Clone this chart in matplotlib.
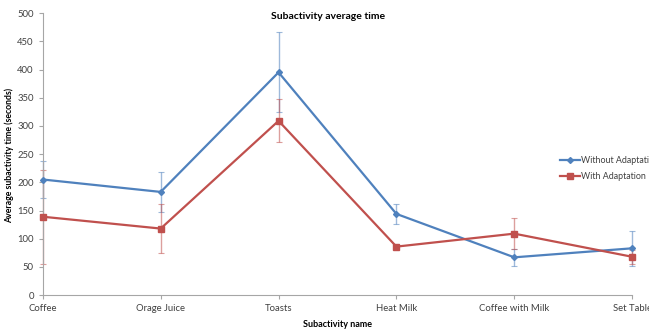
import matplotlib
matplotlib.use("Agg")
import matplotlib.pyplot as plt
import numpy as np

categories = ["Coffee", "Orage Juice", "Toasts", "Heat Milk", "Coffee with Milk", "Set Table"]
without_adapt = [205, 183, 395, 144, 67, 83]
without_err = [32, 35, 71, 18, 15, 31]
with_adapt = [139, 118, 309, 86, 109, 68]
with_err = [83, 43, 38, 3, 28, 12]
yticks = [0, 50, 100, 150, 200, 250, 300, 350, 400, 450, 500]

plt.rcParams['font.family'] = ['Lato', 'DejaVu Sans']

fig = plt.figure(figsize=(6.49, 3.29), dpi=100)
ax = fig.add_axes([0.066, 0.103, 0.908, 0.857])

blue = "#4F81BD"
red = "#C0504D"
x = np.arange(len(categories))

ax.errorbar(x, without_adapt, yerr=without_err, fmt='none', ecolor=blue, alpha=0.55,
            elinewidth=1, capsize=2, capthick=0.8, zorder=2, clip_on=False)
ax.errorbar(x, with_adapt, yerr=with_err, fmt='none', ecolor=red, alpha=0.55,
            elinewidth=1, capsize=2, capthick=0.8, zorder=2, clip_on=False)
ax.plot(x, without_adapt, color=blue, lw=1.6, marker='D', ms=3, label="Without Adaptation",
        zorder=3, clip_on=False)
ax.plot(x, with_adapt, color=red, lw=1.6, marker='s', ms=4.5, label="With Adaptation",
        zorder=3, clip_on=False)

ax.set_xlim(0, 5)
ax.set_ylim(0, 500)
ax.set_yticks(yticks)
ax.set_xticks(x)
ax.set_xticklabels(categories)
for s in ['top', 'right']:
    ax.spines[s].set_visible(False)
for s in ['left', 'bottom']:
    ax.spines[s].set_color('#A6A6A6')
    ax.spines[s].set_linewidth(0.8)
ax.tick_params(axis='both', colors='#A6A6A6', labelcolor='#404040', labelsize=6.8, length=3, width=0.8)

fig.text(0.505, 0.951, "Subactivity average time", fontsize=7.5, fontweight='bold',
         ha='center', va='center', color='black')
ax.set_xlabel("Subactivity name", fontsize=6.5, fontweight='bold', labelpad=5)
ax.set_ylabel("Average subactivity time (seconds)", fontsize=6.3, fontweight='bold')
ax.yaxis.set_label_coords(-0.049, 0.496)

leg = ax.legend(loc='upper left', bbox_to_anchor=(0.872, 0.505), frameon=False, fontsize=6.4,
                handlelength=2.2, handletextpad=0.15, labelspacing=0.75, borderaxespad=0)
for t in leg.get_texts():
    t.set_color('#404040')

fig.savefig("out.png", dpi=100)
